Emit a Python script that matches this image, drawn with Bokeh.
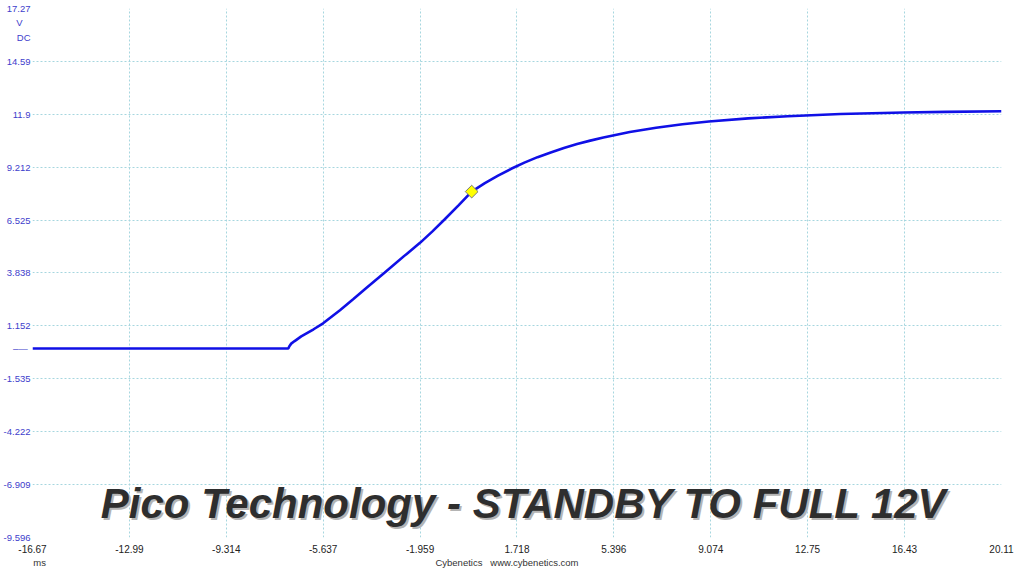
from bokeh.plotting import figure
from bokeh.models import FixedTicker, CustomJSTickFormatter, Label, Range1d, LinearAxis
from bokeh.embed import file_html
from bokeh.resources import INLINE

# ---- data ----
time_ms = [-16.67, -6.96, -6.92, -6.85, -6.72, -6.47, -6.00, -5.64, -5.00, -4.50,
           -4.00, -3.31, -2.50, -1.95, -1.50, -1.04, -0.50, 0.00, 0.50, 1.00,
           1.50, 2.00, 2.50, 3.00, 3.50, 4.00, 4.50, 5.00, 6.00, 7.00,
           8.00, 9.00, 10.50, 12.00, 14.00, 16.40, 18.00, 20.11]
volts = [0.00, 0.00, 0.12, 0.25, 0.38, 0.62, 0.98, 1.28, 1.95, 2.50,
         3.07, 3.85, 4.77, 5.38, 5.94, 6.54, 7.27, 7.97, 8.40, 8.78,
         9.13, 9.44, 9.72, 9.96, 10.19, 10.39, 10.56, 10.72, 11.00, 11.21,
         11.39, 11.53, 11.69, 11.80, 11.91, 11.99, 12.02, 12.05]
marker_t = [0.0]
marker_v = [7.97]

x_ticks = [-16.67, -12.99, -9.314, -5.637, -1.959, 1.718, 5.396, 9.074, 12.75, 16.43, 20.11]
y_ticks = [-9.596, -6.909, -4.222, -1.535, 1.152, 3.838, 6.525, 9.212, 11.9, 14.59, 17.27]

# extra texts set along the axes
y_note_pos = [16.56, 15.80, 0.0]
y_note_txt = ["V\u00a0\u00a0\u00a0", "DC", "\u2013\u2014\u00a0"]
x_note_pos = [-16.40, 1.34]
x_note_txt = ["ms", "Cybenetics\u00a0\u00a0\u00a0www.cybenetics.com"]

title_text = "Pico Technology - STANDBY TO FULL 12V"

# ---- figure ----
p = figure(width=1015, height=571, output_backend="svg", toolbar_location=None,
           x_range=Range1d(x_ticks[0], x_ticks[-1]),
           y_range=Range1d(y_ticks[0], y_ticks[-1]),
           min_border_left=31, min_border_right=14, min_border_top=8,
           min_border_bottom=34)
p.outline_line_color = None
p.background_fill_color = "white"
p.border_fill_color = "white"

fmt_code = ("const i = t.indexOf(tick); "
            "return i >= 0 ? s[i] : tick.toString();")

def style_axis(ax, color, size, standoff):
    ax.axis_line_color = None
    ax.major_tick_line_color = None
    ax.minor_tick_line_color = None
    ax.major_tick_out = 0
    ax.major_tick_in = 0
    ax.minor_tick_out = 0
    ax.minor_tick_in = 0
    ax.major_label_text_font = "Liberation Sans"
    ax.major_label_text_font_size = size
    ax.major_label_text_color = color
    ax.major_label_standoff = standoff

xa = p.xaxis[0]
ya = p.yaxis[0]
xa.ticker = FixedTicker(ticks=x_ticks)
xa.formatter = CustomJSTickFormatter(code="return tick.toString();")
ya.ticker = FixedTicker(ticks=y_ticks + y_note_pos)
ya.formatter = CustomJSTickFormatter(args=dict(t=y_note_pos, s=y_note_txt), code=fmt_code)
style_axis(xa, "#222222", "10px", 7)
style_axis(ya, "#4040cc", "9.5px", 2)

xa2 = LinearAxis(ticker=FixedTicker(ticks=x_note_pos),
                 formatter=CustomJSTickFormatter(args=dict(t=x_note_pos, s=x_note_txt), code=fmt_code))
style_axis(xa2, "#333333", "9.5px", 1)
p.add_layout(xa2, "below")

p.xgrid.ticker = FixedTicker(ticks=x_ticks)
p.ygrid.ticker = FixedTicker(ticks=y_ticks)
for g in (p.xgrid, p.ygrid):
    g.grid_line_color = "#a6d6df"
    g.grid_line_dash = "2 2"
    g.grid_line_width = 1

# waveform
p.line(time_ms, volts, line_color="#1010e6", line_width=2.6)
p.scatter(marker_t, marker_v, marker="square", angle=0.7854, size=9,
          fill_color="#ffff00", line_color="#7a7a7a", line_width=1)

# big title with shadow
for col, xo, yo in (("#b4b4b4", 2, -2), ("#2e2e2e", 0, 0)):
    p.add_layout(Label(x=1.985, y=-7.86, text=title_text, text_color=col,
                       text_font="Liberation Sans", text_font_style="bold italic",
                       text_font_size="42px", text_align="center",
                       text_baseline="middle", x_offset=xo, y_offset=yo))

open("out.html", "w").write(file_html(p, INLINE))
